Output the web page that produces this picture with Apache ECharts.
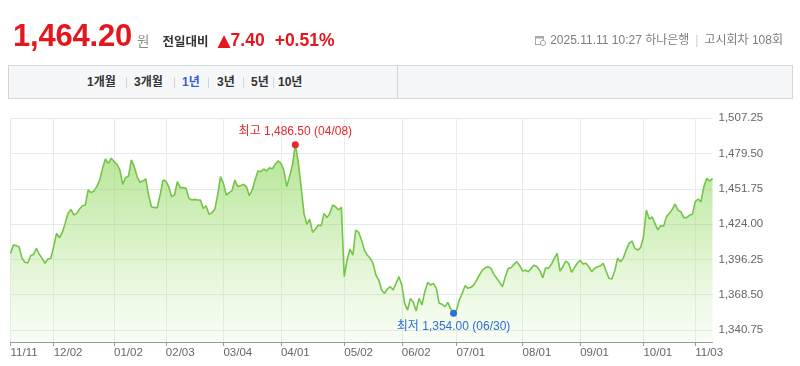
<!DOCTYPE html>
<html>
<head>
<meta charset="utf-8">
<script src="https://cdn.jsdelivr.net/npm/echarts@6/dist/echarts.min.js"></script>
<style>
  html, body { margin:0; padding:0; background:#fff; }
  body { width:800px; height:366px; position:relative; overflow:hidden; font-family:"Liberation Sans", "Noto Sans CJK KR", sans-serif; }
  #chart { position:absolute; left:0; top:0; width:800px; height:366px; }
  #hdr { position:absolute; left:13px; top:20px; display:flex; align-items:baseline; white-space:nowrap; }
  #hdr .price { font-size:31px; line-height:31px; font-weight:bold; color:#e4161e; letter-spacing:-0.2px; }
  #hdr .won { font-size:13.5px; color:#8a8a8a; margin-left:5px; font-family:"Noto Sans CJK KR", sans-serif; }
  #hdr .lbl { font-size:12.5px; font-weight:bold; color:#333; margin-left:13px; font-family:"Noto Sans CJK KR", sans-serif; }
  #hdr .chg { font-size:17.5px; font-weight:bold; color:#e4161e; }
  #hdr .tri { font-size:17px; color:#e4161e; margin-left:9px; font-family:"DejaVu Sans", sans-serif; }
  #hdr .pct { margin-left:10px; }
  #info { position:absolute; right:17px; top:33px; font-size:12px; line-height:14px; color:#7d7d7d; white-space:nowrap; display:flex; align-items:center; }
  #info .sep { color:#cfcfcf; margin:0 6px; }
  #info svg { margin-right:4px; }
  #tabs { position:absolute; left:8px; top:65px; width:785px; height:34px; background:#f6f7f9; border:1px solid #d3d6db; box-sizing:border-box; }
  #tabs .vsep { position:absolute; left:388px; top:0; width:1px; height:32px; background:#d3d6db; }
  #tabs .t { position:absolute; top:0; line-height:32px; font-size:12px; font-weight:bold; color:#333; font-family:"Liberation Sans", "Noto Sans CJK KR", sans-serif; }
  #tabs .t.on { color:#3a5cc8; }
  #tabs .s { position:absolute; top:11px; width:1px; height:11px; background:#d6d6d6; }
</style>
</head>
<body>
<div id="chart"></div>
<div id="hdr"><span class="price">1,464.20</span><span class="won">원</span><span class="lbl">전일대비</span><span class="tri">▲</span><span class="chg">7.40</span><span class="chg pct">+0.51%</span></div>
<div id="info"><svg width="11" height="11" viewBox="0 0 11 11"><rect x="0.5" y="1.5" width="8" height="8" fill="none" stroke="#aaa"/><rect x="0.5" y="1.5" width="8" height="2" fill="#aaa"/><circle cx="8" cy="8" r="2.6" fill="#fff" stroke="#aaa"/></svg><span>2025.11.11 10:27 하나은행</span><span class="sep">|</span><span>고시회차 108회</span></div>
<div id="tabs">
  <div class="vsep"></div>
  <span class="t" style="left:78px">1개월</span><span class="s" style="left:117px"></span>
  <span class="t" style="left:125px">3개월</span><span class="s" style="left:165px"></span>
  <span class="t on" style="left:173px">1년</span><span class="s" style="left:199px"></span>
  <span class="t" style="left:208px">3년</span><span class="s" style="left:234px"></span>
  <span class="t" style="left:242px">5년</span><span class="s" style="left:264px"></span>
  <span class="t" style="left:269px">10년</span>
</div>
<script>
const dates = [
'24/11/11','24/11/12','24/11/13','24/11/14','24/11/15','24/11/18','24/11/19','24/11/20','24/11/21','24/11/22','24/11/25','24/11/26','24/11/27','24/11/28','24/11/29',
'24/12/02','24/12/03','24/12/04','24/12/05','24/12/06','24/12/09','24/12/10','24/12/11','24/12/12','24/12/13','24/12/16','24/12/17','24/12/18','24/12/19','24/12/20','24/12/23','24/12/24','24/12/26','24/12/27','24/12/30','24/12/31',
'25/01/02','25/01/03','25/01/06','25/01/07','25/01/08','25/01/09','25/01/10','25/01/13','25/01/14','25/01/15','25/01/16','25/01/17','25/01/20','25/01/21','25/01/22','25/01/23','25/01/24','25/01/31',
'25/02/03','25/02/04','25/02/05','25/02/06','25/02/07','25/02/10','25/02/11','25/02/12','25/02/13','25/02/14','25/02/17','25/02/18','25/02/19','25/02/20','25/02/21','25/02/24','25/02/25','25/02/26','25/02/27','25/02/28',
'25/03/04','25/03/05','25/03/06','25/03/07','25/03/10','25/03/11','25/03/12','25/03/13','25/03/14','25/03/17','25/03/18','25/03/19','25/03/20','25/03/21','25/03/24','25/03/25','25/03/26','25/03/27','25/03/28','25/03/31',
'25/04/01','25/04/02','25/04/03','25/04/04','25/04/07','25/04/08','25/04/09','25/04/10','25/04/11','25/04/14','25/04/15','25/04/16','25/04/17','25/04/18','25/04/21','25/04/22','25/04/23','25/04/24','25/04/25','25/04/28','25/04/29','25/04/30',
'25/05/02','25/05/06','25/05/07','25/05/08','25/05/09','25/05/12','25/05/13','25/05/14','25/05/15','25/05/16','25/05/19','25/05/20','25/05/21','25/05/22','25/05/23','25/05/26','25/05/27','25/05/28','25/05/29','25/05/30',
'25/06/02','25/06/04','25/06/05','25/06/09','25/06/10','25/06/11','25/06/12','25/06/13','25/06/16','25/06/17','25/06/18','25/06/19','25/06/20','25/06/23','25/06/24','25/06/25','25/06/26','25/06/27','25/06/30',
'25/07/01','25/07/02','25/07/03','25/07/04','25/07/07','25/07/08','25/07/09','25/07/10','25/07/11','25/07/14','25/07/15','25/07/16','25/07/17','25/07/18','25/07/21','25/07/22','25/07/23','25/07/24','25/07/25','25/07/28','25/07/29','25/07/30','25/07/31',
'25/08/01','25/08/04','25/08/05','25/08/06','25/08/07','25/08/08','25/08/11','25/08/12','25/08/13','25/08/14','25/08/18','25/08/19','25/08/20','25/08/21','25/08/22','25/08/25','25/08/26','25/08/27','25/08/28','25/08/29',
'25/09/01','25/09/02','25/09/03','25/09/04','25/09/05','25/09/08','25/09/09','25/09/10','25/09/11','25/09/12','25/09/15','25/09/16','25/09/17','25/09/18','25/09/19','25/09/22','25/09/23','25/09/24','25/09/25','25/09/26','25/09/29','25/09/30',
'25/10/01','25/10/02','25/10/10','25/10/13','25/10/14','25/10/15','25/10/16','25/10/17','25/10/20','25/10/21','25/10/22','25/10/23','25/10/24','25/10/27','25/10/28','25/10/29','25/10/30','25/10/31',
'25/11/03','25/11/04','25/11/05','25/11/06','25/11/07','25/11/10','25/11/11'
];

const rates = [
1401.0,1407.6,1407.1,1406.0,1397.1,1394.0,1393.4,1399.2,1400.2,1405.0,
1400.2,1397.1,1393.2,1396.6,1397.1,1406.3,1416.8,1413.3,1417.5,1424.6,
1432.5,1435.6,1431.2,1432.5,1435.9,1438.5,1439.1,1450.9,1448.8,1450.1,
1453.5,1458.7,1467.9,1475.3,1471.8,1475.8,1473.2,1471.1,1466.6,1455.3,
1460.6,1461.6,1474.5,1469.2,1461.4,1456.9,1457.9,1459.5,1446.9,1437.7,
1437.0,1437.0,1446.9,1458.7,1457.9,1453.5,1445.6,1446.9,1457.4,1452.7,
1452.7,1452.2,1444.3,1443.0,1443.5,1443.0,1443.0,1436.4,1438.3,1431.7,
1433.0,1435.6,1446.9,1461.4,1456.1,1446.9,1448.8,1450.3,1458.7,1453.5,
1454.3,1455.3,1453.5,1446.4,1450.9,1458.7,1465.8,1465.3,1467.4,1465.8,
1468.4,1467.4,1471.1,1473.7,1471.8,1466.6,1453.5,1461.4,1470.5,1486.5,
1473.2,1453.5,1432.5,1423.8,1428.0,1417.5,1420.2,1423.3,1422.8,1432.5,
1429.1,1432.5,1439.1,1437.7,1435.1,1437.2,1382.7,1395.8,1404.4,1399.7,
1419.4,1417.5,1411.5,1403.6,1399.7,1397.1,1393.2,1384.0,1380.0,1372.2,
1369.5,1373.0,1374.8,1372.2,1377.4,1382.7,1376.1,1361.7,1356.4,1365.6,
1362.5,1355.6,1365.6,1360.4,1370.9,1378.2,1376.1,1377.4,1373.5,1361.7,
1360.9,1359.1,1362.5,1357.2,1354.0,1356.4,1364.3,1369.5,1375.6,1373.5,
1374.3,1376.1,1380.0,1384.0,1387.9,1389.7,1390.5,1389.2,1384.5,1381.4,
1378.2,1374.8,1382.7,1389.2,1389.7,1392.4,1394.5,1391.3,1387.1,1387.7,
1386.6,1389.2,1391.8,1390.5,1387.4,1381.9,1389.7,1389.2,1392.4,1397.1,
1401.0,1387.1,1390.5,1395.0,1393.2,1386.1,1389.7,1393.2,1395.5,1392.6,
1393.2,1390.5,1386.6,1389.2,1390.5,1391.1,1393.2,1387.1,1381.4,1380.8,
1387.1,1397.1,1394.5,1397.1,1403.6,1408.9,1410.7,1405.0,1403.6,1405.5,
1414.0,1435.1,1428.0,1429.6,1424.6,1419.4,1422.8,1422.3,1429.9,1432.5,
1435.6,1439.8,1434.9,1433.8,1429.1,1429.1,1430.9,1431.7,1441.7,1443.8,
1441.7,1453.5,1460.0,1457.9,1460.0
];

const tickDates = ['24/11/11','24/12/02','25/01/02','25/02/03','25/03/04','25/04/01','25/05/02','25/06/02','25/07/01','25/08/01','25/09/01','25/10/01','25/11/03'];
const yTicks = [1340.75, 1368.50, 1396.25, 1424.00, 1451.75, 1479.50, 1507.25];
const yMin = 1331.3;
const yMax = 1507.25;

const fmt = v => Number(v).toLocaleString('en-US', {minimumFractionDigits:2, maximumFractionDigits:2});
let hiIdx = 0, loIdx = 0;
rates.forEach((v, i) => { if (v > rates[hiIdx]) hiIdx = i; if (v < rates[loIdx]) loIdx = i; });
const hiText = '최고 ' + fmt(rates[hiIdx]) + ' (' + dates[hiIdx].slice(3) + ')';
const loText = '최저 ' + fmt(rates[loIdx]) + ' (' + dates[loIdx].slice(3) + ')';

const isTick = (idx, val) => tickDates.indexOf(val) >= 0;
const FONT = '"Liberation Sans", "Noto Sans CJK KR", sans-serif';

const chart = echarts.init(document.getElementById('chart'), null, {renderer:'canvas'});
chart.setOption({
  animation: false,
  grid: { left: 10.5, right: 87.5, top: 118.3, bottom: 24, outerBoundsMode: 'none', containLabel: false },
  xAxis: {
    type: 'category',
    data: dates,
    boundaryGap: false,
    axisLine: { show: true, lineStyle: { color: '#9a9a9a', width: 1 } },
    axisTick: { show: true, interval: isTick, length: 4, lineStyle: { color: '#9a9a9a' } },
    axisLabel: { interval: isTick, formatter: v => v.slice(3), align: 'left', margin: 5, color: '#666', fontSize: 11.5, fontFamily: FONT },
    splitLine: { show: true, interval: isTick, lineStyle: { color: '#ebebeb', width: 1 } }
  },
  yAxis: {
    type: 'value',
    position: 'right',
    min: yMin,
    max: yMax,
    scale: true,
    axisLine: { show: false },
    axisTick: { show: false, customValues: yTicks },
    axisLabel: { customValues: yTicks, formatter: v => fmt(v), color: '#666', fontSize: 11.5, margin: 6, fontFamily: FONT },
    splitLine: { show: true, lineStyle: { color: '#e8e8e8', width: 1 } }
  },
  series: [{
    type: 'line',
    data: rates,
    showSymbol: false,
    smooth: false,
    lineStyle: { color: '#74c548', width: 1.6 },
    areaStyle: {
      origin: 'start',
      color: new echarts.graphic.LinearGradient(0, 0, 0, 1, [
        { offset: 0, color: 'rgba(120,206,60,0.8)' },
        { offset: 0.5, color: 'rgba(148,219,98,0.5)' },
        { offset: 1, color: 'rgba(190,235,160,0.14)' }
      ])
    },
    markPoint: {
      symbol: 'circle',
      symbolSize: 7,
      silent: true,
      label: { show: true, fontSize: 12, fontFamily: FONT },
      data: [
        { coord: [dates[hiIdx], rates[hiIdx]], itemStyle: { color: '#e8262b' },
          label: { position: 'top', distance: 3, color: '#e8262b', formatter: hiText } },
        { coord: [dates[loIdx], rates[loIdx]], itemStyle: { color: '#2f6fd6' },
          label: { position: 'bottom', distance: 4, color: '#2f6fd6', formatter: loText } }
      ]
    }
  }]
});
</script>
</body>
</html>
